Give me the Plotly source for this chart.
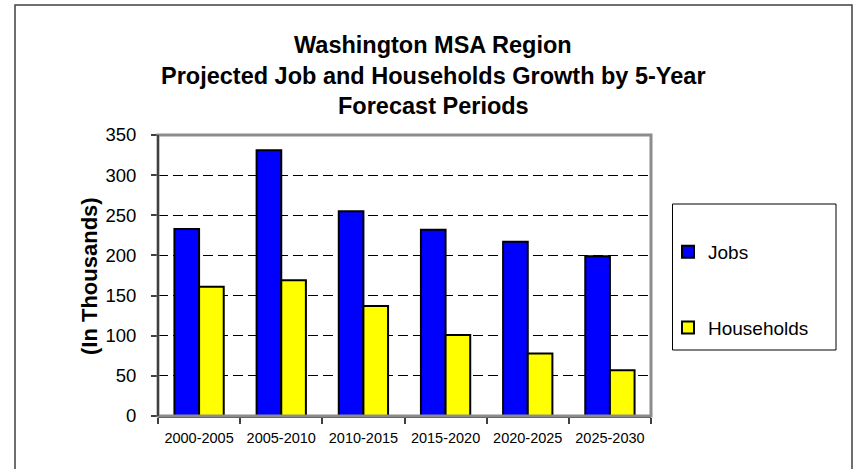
import plotly.graph_objects as go

periods = ["2000-2005", "2005-2010", "2010-2015", "2015-2020", "2020-2025", "2025-2030"]
jobs = [233, 331, 255, 232, 217, 199]
households = [161, 169, 137, 101, 78, 57]
title_lines = ["Washington MSA Region",
               "Projected Job and Households Growth by 5-Year",
               "Forecast Periods"]

FONT = "Arial, Liberation Sans, sans-serif"
W, H = 853, 469
L, R, T, B = 158, 651, 135, 416

def px(xp):
    return (xp - L) / (R - L)

def py(yp):
    return (B - yp) / (B - T)

fig = go.Figure()
fig.add_trace(go.Bar(x=periods, y=jobs, name="Jobs", legendgroup="a",
                     marker=dict(color="#0000FF", line=dict(color="black", width=2))))
fig.add_trace(go.Bar(x=periods, y=households, name="Households", legendgroup="b",
                     marker=dict(color="#FFFF00", line=dict(color="black", width=2))))

annotations = []
for i, t in enumerate(title_lines):
    annotations.append(dict(text="<b>" + t + "</b>", xref="paper", yref="paper",
                            x=px(433), y=py(45 + 30.5 * i), xanchor="center", yanchor="middle",
                            showarrow=False, font=dict(family=FONT, size=23.5, color="black")))
annotations.append(dict(text="<b>(In Thousands)</b>", xref="paper", yref="paper",
                        x=px(89), y=py(276), textangle=-90, xanchor="center", yanchor="middle",
                        showarrow=False, font=dict(family=FONT, size=22, color="black")))

shapes = [
    # outer frame
    dict(type="rect", xref="paper", yref="paper", x0=px(15), x1=px(852), y0=py(480), y1=py(5),
         line=dict(color="#404040", width=1.5), layer="below"),
    # plot area border
    dict(type="rect", xref="paper", yref="paper", x0=0, x1=1, y0=0, y1=1,
         line=dict(color="#8c8c8c", width=3)),
    # left axis line
    dict(type="line", xref="paper", yref="paper", x0=0, x1=0, y0=0, y1=1,
         line=dict(color="#404040", width=2)),
    # legend box
    dict(type="rect", xref="paper", yref="paper", x0=px(672.5), x1=px(836), y0=py(350), y1=py(204),
         line=dict(color="black", width=1)),
]

fig.update_layout(
    width=W, height=H,
    margin=dict(l=L, r=W - R, t=T, b=H - B, pad=0, autoexpand=False),
    paper_bgcolor="white", plot_bgcolor="white",
    barmode="group", bargap=0.4, bargroupgap=0,
    font=dict(family=FONT, color="black"),
    showlegend=True,
    legend=dict(x=px(668), y=py(233), xanchor="left", yanchor="top",
                font=dict(family=FONT, size=19, color="black"),
                bgcolor="rgba(0,0,0,0)", borderwidth=0,
                tracegroupgap=48, itemwidth=30, traceorder="grouped"),
    annotations=annotations,
    shapes=shapes,
)
fig.update_xaxes(type="category", tickson="boundaries", ticks="outside", ticklen=6,
                 tickcolor="#404040", tickwidth=1.5, showline=True, linecolor="#404040", linewidth=2,
                 tickfont=dict(family=FONT, size=14.5, color="black"), showgrid=False,
                 ticklabelstandoff=8)
fig.update_yaxes(range=[0, 350], dtick=50, ticks="outside", ticklen=6, tickcolor="#404040",
                 tickwidth=1.5,
                 showgrid=True, gridcolor="black", griddash="10px,5px", gridwidth=1,
                 zeroline=False, showline=False, ticklabelstandoff=11,
                 tickfont=dict(family=FONT, size=18.5, color="black"))

fig.write_html("out.html", config={"displayModeBar": False},
               post_script="document.body.style.margin='0';")
